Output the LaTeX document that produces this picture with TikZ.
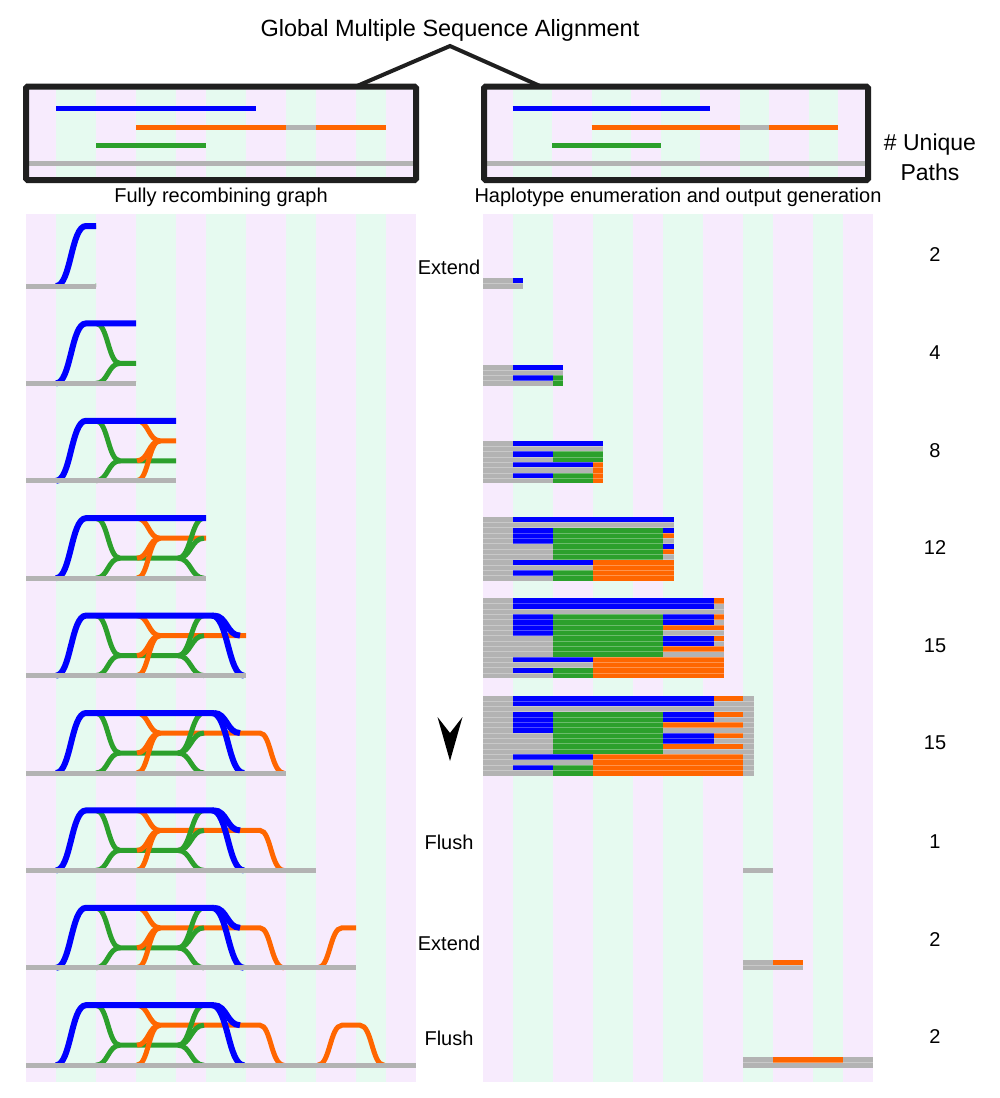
\documentclass[tikz,border=0pt]{standalone}
\usepackage{fontspec}
\setmainfont{Liberation Sans}
\definecolor{bgP}{HTML}{F7EBFD}
\definecolor{bgG}{HTML}{E6FAF0}
\definecolor{cB}{HTML}{0000FF}
\definecolor{cO}{HTML}{FF6600}
\definecolor{cN}{HTML}{2CA02C}
\definecolor{cG}{HTML}{B3B3B3}
\newcommand\colbg[3]{\foreach \xa/\xb/\cl in {26/56/bgP,56/96/bgG,96/136/bgP,136/176/bgG,176/206/bgP,206/246/bgG,246/286/bgP,286/316/bgG,316/356/bgP,356/386/bgG,386/416/bgP}{\fill[\cl] ({\xa+#1},#2) rectangle ({\xb+#1},#3);}}
\newcommand\msalines{%
  \draw[cB,line width=5] (56,108) -- (256,108);
  \draw[cO,line width=5] (136,127) -- (286,127);
  \draw[cG,line width=5] (286,127) -- (316,127);
  \draw[cO,line width=5] (316,127) -- (386,127);
  \draw[cN,line width=5] (96,145) -- (206,145);
  \draw[cG,line width=5] (26,163) -- (416,163);}
\newcommand\fullgraph{%
  \draw[gn] (96,-60) .. controls (108,-60) and (108,-20) .. (120,-20) -- (180,-20);
  \draw[gn] (96,0) .. controls (108,0) and (108,-20) .. (120,-20);
  \draw[og] (137,-60) .. controls (148.5,-60) and (148.5,-40) .. (160,-40) -- (260,-40) .. controls (271,-40) and (271,0) .. (284,0);
  \draw[og] (137,-20) .. controls (148.5,-20) and (148.5,-40) .. (160,-40);
  \draw[og] (137,0) .. controls (148.5,0) and (148.5,-40) .. (160,-40);
  \draw[og] (318,0) .. controls (330,0) and (330,-40) .. (342,-40) -- (360,-40) .. controls (372,-40) and (372,0) .. (384,0);
  \draw[gn] (178,-20) .. controls (191,-20) and (191,-60) .. (204,-60);
  \draw[gn] (178,-20) .. controls (191,-20) and (191,-40) .. (204,-40);
  \draw[gn] (178,-20) .. controls (191,-20) and (191,0) .. (204,0);
  \draw[bl] (56,0) .. controls (71,0) and (71,-60) .. (86,-60) -- (214,-60);
  \draw[bl] (212,-60) .. controls (228,-60) and (228,0) .. (244,0);
  \draw[bl] (214,-60) .. controls (227,-60) and (227,-40) .. (240,-40);}
\newcommand\grrow[2]{\begin{scope}[shift={(0,#1)}]\clip (20,-75) rectangle (#2,10); \fullgraph \draw[cG,line width=5] (26,0) -- (#2,0);\end{scope}}
\newcommand\hsg[4]{\fill[#1] (#2,{-5.333*#4-2.667}) rectangle (#3,{-5.333*#4+2.667});}
\newcommand\hblock[3]{\fill[cG] (#1,{-5.333*(#3-1)-2.667}) rectangle (#2,2.667);}
\newcommand\hsep[3]{\foreach \k in {1,...,#3}{\draw[white,opacity=0.3,line width=0.6] (#1,{-5.333*\k+2.667}) -- (#2,{-5.333*\k+2.667});}}
\newcommand\bigrows[2]{%
  \hsg{cB}{513}{714}{14}\hsg{cO}{714}{#2}{14}
  \hsg{cB}{513}{714}{13}
  \foreach \k in {8,...,11}{\hsg{cB}{513}{553}{\k}}
  \foreach \k in {4,...,11}{\hsg{cN}{553}{663}{\k}}
  \hsg{cB}{663}{714}{11}\hsg{cO}{714}{#2}{11}
  \hsg{cB}{663}{714}{10}
  \hsg{cO}{663}{#2}{9}
  \hsg{cB}{663}{714}{7}\hsg{cO}{714}{#2}{7}
  \hsg{cB}{663}{714}{6}
  \hsg{cO}{663}{#2}{5}
  \hsg{cB}{513}{593}{3}\hsg{cO}{593}{#2}{3}
  \hsg{cO}{593}{#2}{2}
  \hsg{cB}{513}{553}{1}\hsg{cN}{553}{593}{1}\hsg{cO}{593}{#2}{1}
  \hsg{cN}{553}{593}{0}\hsg{cO}{593}{#2}{0}}
\begin{document}
\begin{tikzpicture}[x=1pt,y=-1pt,
  bl/.style={cB,line width=6},
  gn/.style={cN,line width=5},
  og/.style={cO,line width=5},
  lab/.style={inner sep=0pt,font=\fontsize{20}{24}\selectfont},
  big/.style={inner sep=0pt,font=\fontsize{23.5}{28}\selectfont}]
\useasboundingbox[fill=white] (0,0) rectangle (1000,1098);
% panels
\colbg{0}{214}{1082}
\colbg{457}{214}{1082}
% top boxes
\colbg{0}{89}{177}
\msalines
\begin{scope}[xshift=483,xscale=0.987,xshift=-26]
\colbg{0}{89}{177}
\msalines
\end{scope}
\draw[line width=6,color=black!88,rounded corners=1.5] (26,86.5) rectangle (416,180);
\draw[line width=6,color=black!88,rounded corners=1.5] (484,86.5) rectangle (868,180);
% title
\node[big] (title) at (450,30) {Global Multiple Sequence Alignment};
\coordinate (lbox) at (357,86);
\coordinate (apex) at (450,46);
\coordinate (rbox) at (540,86);
\draw[line width=4,color=black!88] (lbox) -- (apex) -- (rbox);
\node[lab] (capL) at (221,197) {Fully recombining graph};
\node[lab] (capR) at (678,197) {Haplotype enumeration and output generation};
\node[big,align=center,font=\fontsize{23}{30}\selectfont] (uniq) at (930,157) {\# Unique\\Paths};
% left graphs
\grrow{286}{96}
\grrow{383.4}{136}
\grrow{480.8}{176}
\grrow{578.2}{206}
\grrow{675.6}{246}
\grrow{773}{286}
\grrow{870.4}{316}
\grrow{967.8}{356}
\grrow{1065.2}{416}
% right haplotypes
\begin{scope}[shift={(0,286)}]
\hblock{483}{523}{2}\hsg{cB}{513}{523}{1}\hsep{483}{523}{1}
\end{scope}
\begin{scope}[shift={(0,383.4)}]
\hblock{483}{563}{4}
\hsg{cB}{513}{563}{3}
\hsg{cB}{513}{553}{1}\hsg{cN}{553}{563}{1}
\hsg{cN}{553}{563}{0}
\hsep{483}{563}{3}
\end{scope}
\begin{scope}[shift={(0,480.8)}]
\hblock{483}{603}{8}
\hsg{cB}{513}{603}{7}
\hsg{cB}{513}{553}{5}\hsg{cN}{553}{603}{5}
\hsg{cN}{553}{603}{4}
\hsg{cB}{513}{593}{3}\hsg{cO}{593}{603}{3}
\hsg{cO}{593}{603}{2}
\hsg{cB}{513}{553}{1}\hsg{cN}{553}{593}{1}\hsg{cO}{593}{603}{1}
\hsg{cN}{553}{593}{0}\hsg{cO}{593}{603}{0}
\hsep{483}{603}{7}
\end{scope}
\begin{scope}[shift={(0,578.2)}]
\hblock{483}{674}{12}
\hsg{cB}{513}{674}{11}
\foreach \k in {7,8,9}{\hsg{cB}{513}{553}{\k}}
\foreach \k in {4,...,9}{\hsg{cN}{553}{663}{\k}}
\hsg{cB}{663}{674}{9}\hsg{cO}{663}{674}{8}
\hsg{cB}{663}{674}{6}\hsg{cO}{663}{674}{5}
\hsg{cB}{513}{593}{3}\hsg{cO}{593}{674}{3}
\hsg{cO}{593}{674}{2}
\hsg{cB}{513}{553}{1}\hsg{cN}{553}{593}{1}\hsg{cO}{593}{674}{1}
\hsg{cN}{553}{593}{0}\hsg{cO}{593}{674}{0}
\hsep{483}{674}{11}
\end{scope}
\begin{scope}[shift={(0,675.6)}]
\hblock{483}{724}{15}
\bigrows{724}{724}
\hsep{483}{724}{14}
\end{scope}
\begin{scope}[shift={(0,773)}]
\hblock{483}{754}{15}
\bigrows{754}{743}
\hsep{483}{754}{14}
\end{scope}
\begin{scope}[shift={(0,870.4)}]
\hblock{743}{773}{1}
\end{scope}
\begin{scope}[shift={(0,967.8)}]
\hblock{743}{803}{2}\hsg{cO}{773}{803}{1}\hsep{743}{803}{1}
\end{scope}
\begin{scope}[shift={(0,1065.2)}]
\hblock{743}{873}{2}\hsg{cO}{773}{843}{1}\hsep{743}{873}{1}
\end{scope}
% middle labels
\node[lab] (e1) at (449,267) {Extend};
\node[lab] (f1) at (449,842) {Flush};
\node[lab] (e2) at (449,943) {Extend};
\node[lab] (f2) at (449,1038) {Flush};
\fill[black] (437.5,717) -- (450,733) -- (462.5,717) -- (450,761) -- cycle;
% counts
\node[lab] (n1) at (935,255) {2};
\node[lab] (n2) at (935,353) {4};
\node[lab] (n3) at (935,451) {8};
\node[lab] (n4) at (935,548) {12};
\node[lab] (n5) at (935,646) {15};
\node[lab] (n6) at (935,743) {15};
\node[lab] (n7) at (935,842) {1};
\node[lab] (n8) at (935,940) {2};
\node[lab] (n9) at (935,1037) {2};
\end{tikzpicture}
\end{document}
